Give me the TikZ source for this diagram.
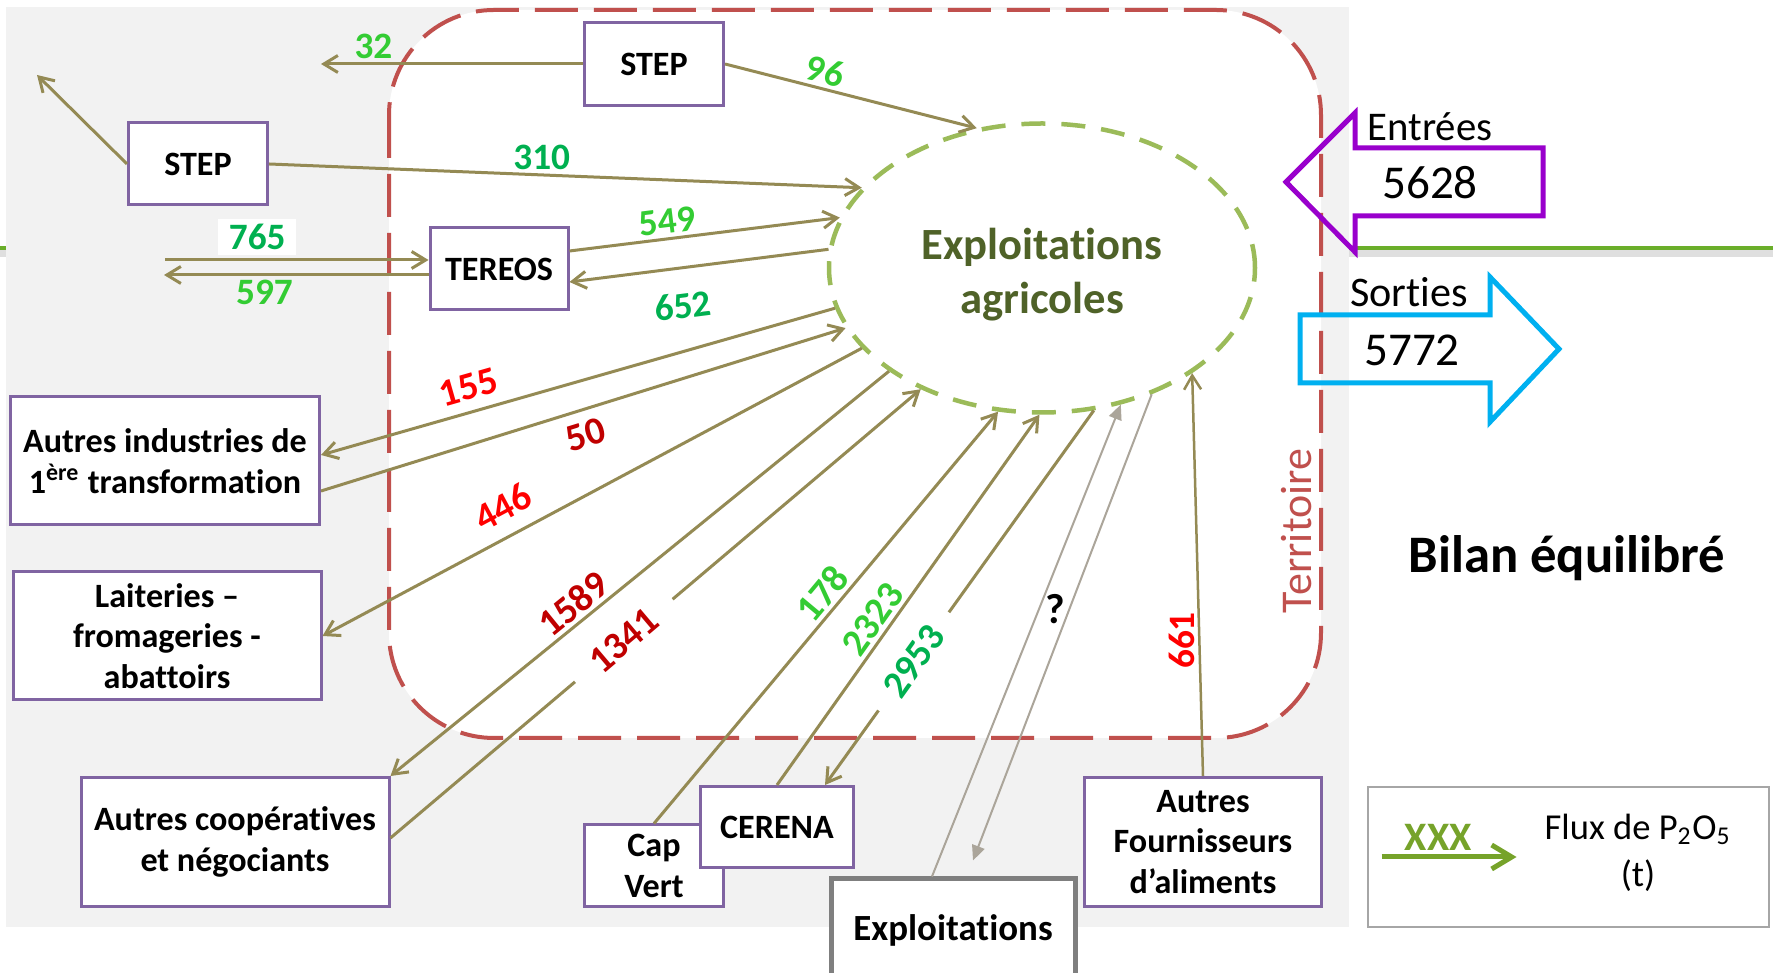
\documentclass[tikz,border=0pt]{standalone}
\usepackage{fontspec}
\setmainfont{Carlito}[Ligatures=NoCommon]
\usepackage{tikz}
\usetikzlibrary{shapes,arrows.meta,positioning,calc}
\definecolor{frame}{HTML}{8064A2}
\definecolor{flow}{HTML}{948A54}
\definecolor{grayflow}{HTML}{ABA59A}
\definecolor{lightg}{HTML}{33CC33}
\definecolor{darkg}{HTML}{00B050}
\definecolor{flowred}{HTML}{FF0000}
\definecolor{darkred}{HTML}{C00000}
\definecolor{terr}{HTML}{C0504D}
\definecolor{ellgreen}{HTML}{9BBB59}
\definecolor{farmtext}{HTML}{4F6228}
\definecolor{bg}{HTML}{F2F2F2}
\definecolor{inarrow}{HTML}{9900CC}
\definecolor{outarrow}{HTML}{00B0F0}
\definecolor{band}{HTML}{6AAE2A}
\definecolor{leggreen}{HTML}{76A32A}
\definecolor{leggray}{HTML}{A6A6A6}
\definecolor{explgray}{HTML}{7F7F7F}
\newcommand{\boxfont}{\fontsize{9.7}{11.6}\selectfont\bfseries}
\newcommand{\flowfont}{\fontsize{10.6}{12}\selectfont\bfseries}
\newcommand{\bigflowfont}{\fontsize{11}{12}\selectfont\bfseries}

\begin{document}
\begin{tikzpicture}[x=0.1mm, y=-0.1mm,
  actor/.style={rectangle, draw=frame, fill=white, line width=0.3mm, align=center, font=\boxfont, inner sep=1pt},
  arr/.style={-{Straight Barb[length=1.4mm,width=1.7mm]}, line width=0.3mm, flow},
  garr/.style={-{Triangle[length=1.5mm,width=1.3mm]}, line width=0.2mm, grayflow},
  num/.style={font=\flowfont, inner sep=1pt},
  bignum/.style={font=\bigflowfont, inner sep=1pt}
]
\useasboundingbox (0,0) rectangle (1773,973);
\draw[black!25, line width=0.7mm, opacity=0.5] (0,254) -- (1773,254);
\draw[band, line width=0.45mm] (0,248) -- (1773,248);
\fill[bg] (6,7) rectangle (1349,927);
\draw[terr, fill=white, line width=0.4mm, dash pattern=on 4.3mm off 1.6mm, rounded corners=10.5mm] (389,10) rectangle (1321,738);
\node[rotate=90, text=terr, font=\fontsize{12.5}{14}\selectfont] (terrlabel) at (1297,531) {Territoire};

\node[ellipse, draw=ellgreen, line width=0.45mm, dash pattern=on 2.4mm off 1.6mm, minimum width=42.6mm, minimum height=28.9mm, align=center, text=farmtext, font=\fontsize{12.7}{15.3}\selectfont\bfseries] (farm) at (1042,268) {\rule{0pt}{4.4mm}Exploitations\\agricoles};

\node[actor, minimum width=13.9mm, minimum height=8.3mm] (steptop) at (654,64) {STEP};
\node[actor, minimum width=13.9mm, minimum height=8.2mm] (stepleft) at (198,164) {STEP};
\node[actor, minimum width=13.8mm, minimum height=8.2mm] (tereos) at (499,269) {TEREOS};
\node[actor, minimum width=30.9mm, minimum height=12.8mm] (indus) at (165,461) {Autres industries de\\1\textsuperscript{ère} transformation};
\node[actor, minimum width=30.8mm, minimum height=12.8mm] (lait) at (167,636) {Laiteries –\\fromageries -\\abattoirs};
\node[actor, minimum width=30.8mm, minimum height=12.9mm] (coop) at (235,842) {Autres coopératives\\et négociants};
\node[actor, minimum width=13.9mm, minimum height=8.2mm] (capvert) at (654,866) {Cap\\Vert};
\node[actor, minimum width=15.3mm, minimum height=8.1mm] (cerena) at (777,827) {CERENA};
\node[actor, draw=explgray, line width=0.5mm, minimum width=24.4mm, minimum height=10.2mm, font=\fontsize{10.5}{12}\selectfont\bfseries] (exploit) at (953,930) {Exploitations};
\node[actor, minimum width=23.7mm, minimum height=12.9mm] (fourn) at (1203,842) {Autres\\Fournisseurs\\d’aliments};

\coordinate (out32) at (321,64);
\coordinate (outstep) at (37,75);
\coordinate (in765) at (165,260);
\coordinate (out597) at (164,275);

\draw[arr] (steptop.west) -- node[num, text=lightg, pos=0.8, above]{32} (out32);
\draw[arr] (steptop.east) -- node[num, text=lightg, pos=0.38, above, sloped]{96} (farm.115);
\draw[arr] (stepleft.west) -- (outstep);
\draw[arr] (stepleft.east) -- node[num, text=darkg, pos=0.46, above]{310} (farm.156);
\draw[arr] (in765) -- node[num, text=darkg, pos=0.35, above=1pt, fill=white, inner xsep=3pt, inner ysep=1.5pt]{765} ($(tereos.west)+(0,-9)$);
\draw[arr] ($(tereos.west)+(0,6)$) -- node[num, text=lightg, pos=0.62, below]{597} (out597);
\draw[arr] ($(tereos.east)+(0,-18)$) -- node[num, text=lightg, pos=0.37, above, sloped]{549} (farm.166);
\draw[arr] (farm.175) -- node[num, text=darkg, pos=0.58, below=2mm, sloped]{652} ($(tereos.east)+(0,13)$);
\draw[arr] (farm.191) -- node[bignum, text=flowred, pos=0.7, above=2pt, sloped]{155} ($(indus.east)+(0,-6)$);
\draw[arr] ($(indus.east)+(0,30)$) -- node[bignum, text=darkred, pos=0.49, below=2pt, sloped]{50} (farm.197);
\draw[arr] (farm.204) -- node[bignum, text=flowred, pos=0.64, above=3pt, sloped]{446} (lait.east);
\draw[arr] (farm.214) -- node[bignum, text=darkred, pos=0.61, above, sloped]{1589} (coop.north east);
\draw[arr] ($(coop.east)+(0,-4)$) -- node[bignum, text=darkred, pos=0.44, sloped, fill=white, inner xsep=7pt]{1341} (farm.225);
\draw[arr] (capvert.north) -- node[bignum, text=lightg, pos=0.53, above, sloped]{178} (farm.253);
\draw[arr] (cerena.north) -- node[bignum, text=lightg, pos=0.42, above, sloped]{2323} (farm.269);
\draw[arr] (farm.290) -- node[bignum, text=darkg, pos=0.67, sloped, fill=white, inner xsep=6pt]{2953} ($(cerena.north)+(48,0)$);
\draw[garr] ($(exploit.north)+(-21,0)$) -- (farm.300);
\draw[garr] (farm.311) -- node[pos=0.46, left, inner sep=1pt, text=black, font=\fontsize{12}{14}\selectfont\bfseries]{?} ($(exploit.north)+(20,-16)$);
\draw[arr, line width=0.25mm] (fourn.north) -- node[num, text=flowred, pos=0.31, above=3pt, rotate=90]{661} (farm.325);

\draw[inarrow, line width=0.5mm] (1286,182) -- (1355,113) -- (1355,148) -- (1543,148) -- (1543,216) -- (1355,216) -- (1355,252) -- cycle;
\node[font=\fontsize{11.6}{13}\selectfont] (entrees) at (1430,127) {Entrées};
\node[font=\fontsize{13.4}{15}\selectfont] (inval) at (1430,183) {5628};
\draw[outarrow, line width=0.5mm] (1300,315) -- (1490,315) -- (1490,277) -- (1559,349) -- (1490,422) -- (1490,383) -- (1300,383) -- cycle;
\node[font=\fontsize{12}{14}\selectfont] (sorties) at (1409,292) {Sorties};
\node[font=\fontsize{13.4}{15}\selectfont] (outval) at (1412,350) {5772};

\node[font=\fontsize{15}{18}\selectfont\bfseries] (bilan) at (1567,558) {Bilan équilibré};

\node[draw=leggray, line width=0.2mm, minimum width=40.1mm, minimum height=14mm] (legend) at (1568,857) {};
\draw[-{Straight Barb[length=2mm,width=2.4mm]}, line width=0.5mm, leggreen] ($(legend.west)+(15,0)$) -- node[pos=0.42, above, font=\fontsize{11.5}{13}\selectfont\bfseries, text=leggreen, inner sep=1pt]{XXX} ($(legend.west)+(150,0)$);
\node[align=center, font=\fontsize{10.4}{13.5}\selectfont] (legtext) at (1638,853) {Flux de P\textsubscript{2}O\textsubscript{5}\\(t)};
\end{tikzpicture}
\end{document}
